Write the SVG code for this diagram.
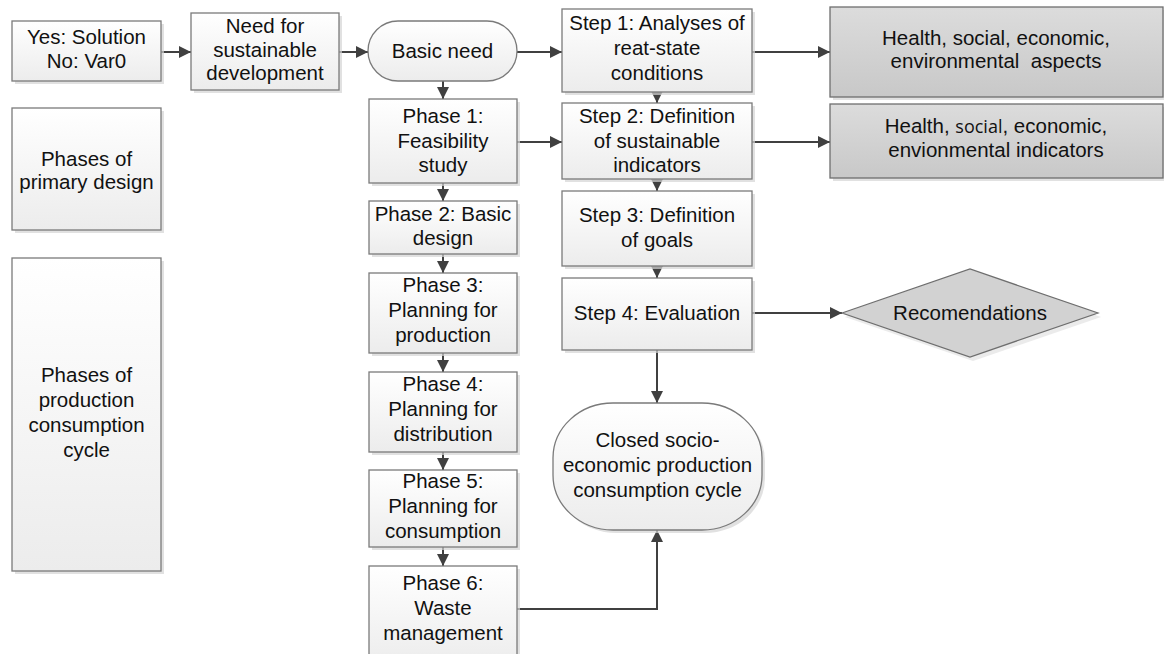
<svg xmlns="http://www.w3.org/2000/svg" width="1164" height="654" viewBox="0 0 1164 654">
<defs>
<linearGradient id="gw" x1="0" y1="0" x2="0" y2="1"><stop offset="0" stop-color="#ffffff"/><stop offset="1" stop-color="#ececec"/></linearGradient>
<linearGradient id="gg" x1="0" y1="0" x2="0" y2="1"><stop offset="0" stop-color="#dcdcdc"/><stop offset="1" stop-color="#c8c8c8"/></linearGradient>
<marker id="ah" viewBox="0 0 12 12" refX="12" refY="6" markerWidth="12" markerHeight="12" markerUnits="userSpaceOnUse" orient="auto"><path d="M0,0 L12,6 L0,12 Z" fill="#404040"/></marker>
</defs>
<style>
.b{fill:url(#gw);stroke:#7a7a7a;stroke-width:1.3}
.g{fill:url(#gg);stroke:#6e6e6e;stroke-width:1.3}
.s{fill:#d4d4d4;opacity:0.7}
.t{font-family:"Liberation Sans",Arial,sans-serif;font-size:20.5px;fill:#111;text-anchor:middle}
.c{fill:none;stroke:#404040;stroke-width:2;marker-end:url(#ah)}
</style>
<rect width="1164" height="654" fill="#ffffff"/>
<g id="connectors">
<line class="c" x1="161" y1="52" x2="191" y2="52"/>
<line class="c" x1="339" y1="52" x2="368" y2="52"/>
<line class="c" x1="517" y1="52" x2="562" y2="52"/>
<line class="c" x1="752" y1="52" x2="830" y2="52"/>
<line class="c" x1="443" y1="81" x2="443" y2="99"/>
<line class="c" x1="517" y1="142" x2="562" y2="142"/>
<line class="c" x1="752" y1="142" x2="830" y2="142"/>
<line class="c" x1="657" y1="91" x2="657" y2="103"/>
<line class="c" x1="657" y1="178" x2="657" y2="191"/>
<line class="c" x1="657" y1="265" x2="657" y2="278"/>
<line class="c" x1="657" y1="350" x2="657" y2="403"/>
<line class="c" x1="752" y1="313" x2="842" y2="313"/>
<line class="c" x1="443" y1="183" x2="443" y2="201"/>
<line class="c" x1="443" y1="254" x2="443" y2="273"/>
<line class="c" x1="443" y1="353" x2="443" y2="372"/>
<line class="c" x1="443" y1="452" x2="443" y2="470"/>
<line class="c" x1="443" y1="547" x2="443" y2="566"/>
<path class="c" d="M517,609 H657 V530"/>
</g>
<g id="yes">
<rect class="s" x="15" y="24" width="149" height="60"/>
<rect class="b" x="12" y="21" width="149" height="60"/>
<text class="t" x="86.5" y="44">Yes: Solution</text>
<text class="t" x="86.5" y="68">No: Var0</text>
</g>
<g id="need">
<rect class="s" x="194" y="16" width="148" height="77"/>
<rect class="b" x="191" y="13" width="148" height="77"/>
<text class="t" x="265" y="33">Need for</text>
<text class="t" x="265" y="56.5">sustainable</text>
<text class="t" x="265" y="80">development</text>
</g>
<g id="basic-need">
<rect class="b" x="368" y="21" width="149" height="60" rx="30" ry="30"/>
<text class="t" x="442.5" y="58">Basic need</text>
</g>
<g id="step1">
<rect class="s" x="565" y="12" width="190" height="83"/>
<rect class="b" x="562" y="9" width="190" height="83"/>
<text class="t" x="657" y="30">Step 1: Analyses of</text>
<text class="t" x="657" y="55">reat-state</text>
<text class="t" x="657" y="80">conditions</text>
</g>
<g id="health1">
<rect class="s" x="833" y="10" width="331" height="90"/>
<rect class="g" x="830" y="7" width="333" height="90"/>
<text class="t" x="996" y="45">Health, social, economic,</text>
<text class="t" x="996" y="68" xml:space="preserve">environmental  aspects</text>
</g>
<g id="primary">
<rect class="s" x="15" y="111" width="149" height="122"/>
<rect class="b" x="12" y="108" width="149" height="122"/>
<text class="t" x="86.5" y="166">Phases of</text>
<text class="t" x="86.5" y="189">primary design</text>
</g>
<g id="phase1">
<rect class="s" x="372" y="102" width="148" height="84"/>
<rect class="b" x="369" y="99" width="148" height="84"/>
<text class="t" x="443" y="123">Phase 1:</text>
<text class="t" x="443" y="148">Feasibility</text>
<text class="t" x="443" y="172">study</text>
</g>
<g id="step2">
<rect class="s" x="565" y="106" width="190" height="76"/>
<rect class="b" x="562" y="103" width="190" height="76"/>
<text class="t" x="657" y="123">Step 2: Definition</text>
<text class="t" x="657" y="148">of sustainable</text>
<text class="t" x="657" y="172">indicators</text>
</g>
<g id="health2">
<rect class="s" x="833" y="107" width="331" height="74"/>
<rect class="g" x="830" y="104" width="333" height="74"/>
<text class="t" x="996" y="133">Health, <tspan style="font-family:'Open Sans',sans-serif;font-size:18px">social</tspan>,  economic,</text>
<text class="t" x="996" y="157">envionmental indicators</text>
</g>
<g id="production">
<rect class="s" x="15" y="261" width="149" height="313"/>
<rect class="b" x="12" y="258" width="149" height="313"/>
<text class="t" x="86.5" y="382">Phases of</text>
<text class="t" x="86.5" y="407">production</text>
<text class="t" x="86.5" y="432">consumption</text>
<text class="t" x="86.5" y="457">cycle</text>
</g>
<g id="phase2">
<rect class="s" x="372" y="204" width="148" height="53"/>
<rect class="b" x="369" y="201" width="148" height="53"/>
<text class="t" x="443" y="221">Phase 2: Basic</text>
<text class="t" x="443" y="245">design</text>
</g>
<g id="step3">
<rect class="s" x="565" y="194" width="190" height="75"/>
<rect class="b" x="562" y="191" width="190" height="75"/>
<text class="t" x="657" y="222">Step 3: Definition</text>
<text class="t" x="657" y="247">of goals</text>
</g>
<g id="phase3">
<rect class="s" x="372" y="276" width="148" height="80"/>
<rect class="b" x="369" y="273" width="148" height="80"/>
<text class="t" x="443" y="292">Phase 3:</text>
<text class="t" x="443" y="317">Planning for</text>
<text class="t" x="443" y="342">production</text>
</g>
<g id="step4">
<rect class="s" x="565" y="281" width="190" height="72"/>
<rect class="b" x="562" y="278" width="190" height="72"/>
<text class="t" x="657" y="320">Step 4: Evaluation</text>
</g>
<g id="recommendations">
<polygon points="845,317 973,273 1101,317 973,361" fill="#d8d8d8" opacity="0.5"/>
<polygon points="842,313 970,269 1098,313 970,357" fill="#d2d2d2" stroke="#6e6e6e" stroke-width="1.2"/>
<text class="t" x="970" y="320">Recomendations</text>
</g>
<g id="phase4">
<rect class="s" x="372" y="375" width="148" height="80"/>
<rect class="b" x="369" y="372" width="148" height="80"/>
<text class="t" x="443" y="391">Phase 4:</text>
<text class="t" x="443" y="416">Planning for</text>
<text class="t" x="443" y="441">distribution</text>
</g>
<g id="closed">
<rect class="s" x="556" y="406" width="209" height="127" rx="60" ry="55"/>
<rect class="b" x="553" y="403" width="209" height="127" rx="60" ry="55"/>
<text class="t" x="657.5" y="447">Closed socio-</text>
<text class="t" x="657.5" y="472">economic production</text>
<text class="t" x="657.5" y="497">consumption cycle</text>
</g>
<g id="phase5">
<rect class="s" x="372" y="473" width="148" height="77"/>
<rect class="b" x="369" y="470" width="148" height="77"/>
<text class="t" x="443" y="488">Phase 5:</text>
<text class="t" x="443" y="513">Planning for</text>
<text class="t" x="443" y="538">consumption</text>
</g>
<g id="phase6">
<rect class="s" x="372" y="569" width="148" height="100"/>
<rect class="b" x="369" y="566" width="148" height="100"/>
<text class="t" x="443" y="590">Phase 6:</text>
<text class="t" x="443" y="615">Waste</text>
<text class="t" x="443" y="640">management</text>
</g>
</svg>
